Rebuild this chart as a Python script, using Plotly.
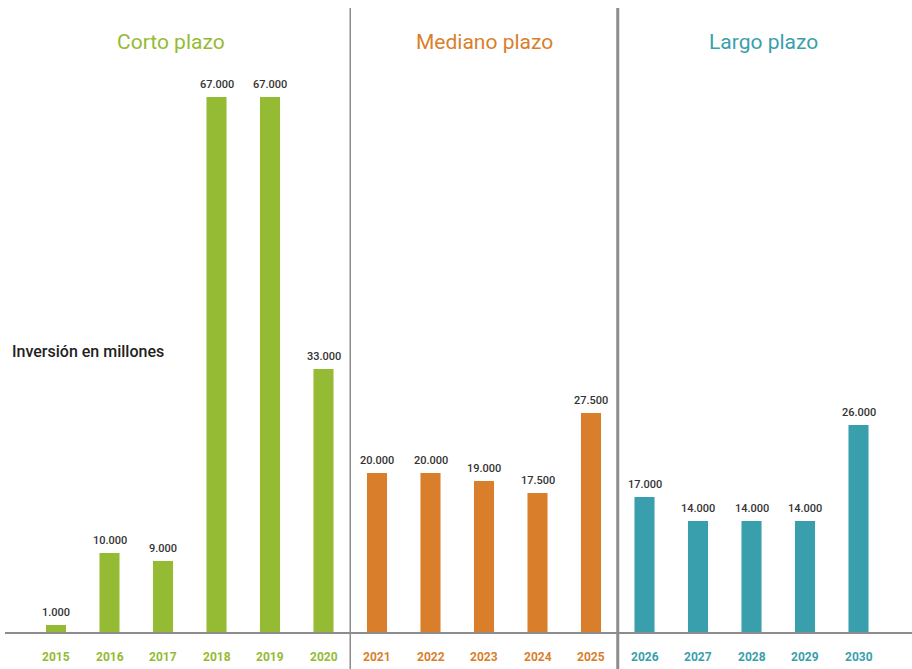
import plotly.graph_objects as go

# ---- data ----
years_short = ["2015", "2016", "2017", "2018", "2019", "2020"]
values_short = [1000, 10000, 9000, 67000, 67000, 33000]
years_mid = ["2021", "2022", "2023", "2024", "2025"]
values_mid = [20000, 20000, 19000, 17500, 27500]
years_long = ["2026", "2027", "2028", "2029", "2030"]
values_long = [17000, 14000, 14000, 14000, 26000]
group_titles = ["Corto plazo", "Mediano plazo", "Largo plazo"]
y_label = "Inversión en millones"

GREEN = "#94bb33"
ORANGE = "#d97f2c"
TEAL = "#399fad"
LINE = "#8c8c8c"
FONT = "Roboto, 'DejaVu Sans', sans-serif"

groups = [
    (years_short, values_short, GREEN),
    (years_mid, values_mid, ORANGE),
    (years_long, values_long, TEAL),
]
all_years = years_short + years_mid + years_long

W, H = 912, 669
fig = go.Figure()
annotations = []
for yrs, vals, col in groups:
    fig.add_trace(go.Bar(x=yrs, y=vals, marker=dict(color=col, line=dict(width=0)),
                         width=0.375, hoverinfo="x+y", showlegend=False))
    for yr, v in zip(yrs, vals):
        idx = all_years.index(yr)
        annotations.append(dict(x=idx, y=v, xref="x", yref="y", text=f"{v:,}".replace(",", "."),
                                showarrow=False, yanchor="bottom", yshift=4,
                                font=dict(family=FONT, size=11, color="#333333", weight=500)))
        annotations.append(dict(x=idx, y=-3000, xref="x", yref="y", text=yr,
                                showarrow=False, yanchor="middle",
                                font=dict(family=FONT, size=12, color=col, weight="bold")))

# group titles
title_x = [171 / W, 484 / W, 763 / W]
for t, xp, (_, _, col) in zip(group_titles, title_x, groups):
    annotations.append(dict(x=xp, y=1 - 42 / H, xref="paper", yref="paper", text=t,
                            showarrow=False, xanchor="center", yanchor="middle",
                            font=dict(family=FONT, size=21, color=col)))

annotations.append(dict(x=10 / W, y=1 - 351 / H, xref="paper", yref="paper", text=y_label,
                        showarrow=False, xanchor="left", yanchor="middle",
                        font=dict(family=FONT, size=16, color="#222222", weight=500)))

shapes = [
    dict(type="line", xref="paper", yref="y", x0=5 / W, x1=1, y0=0, y1=0,
         line=dict(color=LINE, width=2)),
    dict(type="line", xref="x", yref="paper", x0=5.5, x1=5.5, y0=0, y1=1 - 8 / H,
         line=dict(color=LINE, width=1.5)),
    dict(type="line", xref="x", yref="paper", x0=10.5, x1=10.5, y0=0, y1=1 - 8 / H,
         line=dict(color=LINE, width=3)),
]

fig.update_layout(
    width=W, height=H,
    margin=dict(l=0, r=0, t=0, b=0),
    paper_bgcolor="white", plot_bgcolor="white",
    barmode="overlay",
    xaxis=dict(type="category", categoryorder="array", categoryarray=all_years,
               range=[-1.0467, 16.0], visible=False, fixedrange=True),
    yaxis=dict(range=[-4500, 79125], visible=False, fixedrange=True),
    annotations=annotations,
    shapes=shapes,
    showlegend=False,
)

fig.write_html("out.html", config={"displayModeBar": False},
               post_script="document.body.style.margin='0';document.body.style.overflow='hidden';")
